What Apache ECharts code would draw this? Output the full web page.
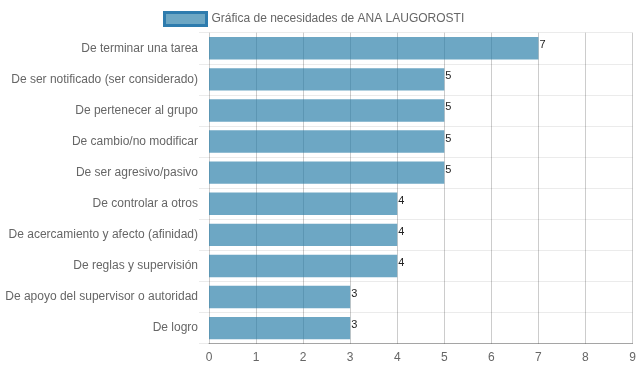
<!DOCTYPE html>
<html><head><meta charset="utf-8">
<script src="https://cdn.jsdelivr.net/npm/echarts@6/dist/echarts.min.js"></script>
<style>html,body{margin:0;padding:0;background:#fff}#c{width:639px;height:372px}</style>
</head><body><div id="c"></div>
<script>
const categories = ["De terminar una tarea","De ser notificado (ser considerado)","De pertenecer al grupo","De cambio/no modificar","De ser agresivo/pasivo","De controlar a otros","De acercamiento y afecto (afinidad)","De reglas y supervisión","De apoyo del supervisor o autoridad","De logro"];
const values = [7,5,5,5,5,4,4,4,3,3];
const seriesName = "Gráfica de necesidades de ANA LAUGOROSTI";
const xMin = 0, xMax = 9, xStep = 1;

const chart = echarts.init(document.getElementById('c'), null, {renderer:'canvas'});
const font = "'Liberation Sans', Arial, sans-serif";
chart.setOption({
  animation:false,
  legend:{
    top:6, left:158, itemWidth:42, itemHeight:13, itemGap:10,
    icon:'rect',
    textStyle:{fontFamily:font, fontSize:12, color:'#666'},
    data:[{name:seriesName, itemStyle:{color:'rgba(30,120,165,0.65)', borderColor:'#2e7cae', borderWidth:3}}]
  },
  grid:{left:209, right:6.5, top:32.7, bottom:28.3, containLabel:false},
  xAxis:{
    type:'value', min:xMin, max:xMax, interval:xStep,
    axisLine:{show:true, lineStyle:{color:'rgba(0,0,0,0.3)'}},
    axisTick:{show:false},
    splitLine:{show:true, lineStyle:{color:'rgba(0,0,0,0.2)', width:1}},
    axisLabel:{fontFamily:font, fontSize:12, color:'#666', margin:8}
  },
  yAxis:{
    type:'category', data:categories, inverse:true,
    axisLine:{show:false},
    axisTick:{show:true, length:10, lineStyle:{color:'rgba(0,0,0,0.08)'}},
    splitLine:{show:true, lineStyle:{color:'rgba(0,0,0,0.08)'}},
    axisLabel:{fontFamily:font, fontSize:12, color:'#666', margin:11}
  },
  series:[{
    name:seriesName, type:'bar', data:values, barWidth:'72%',
    itemStyle:{color:'rgba(30,120,165,0.65)'},
    label:{show:true, position:'right', distance:1, offset:[0,-3], fontFamily:font, fontSize:11, color:'#222'}
  }]
});
</script></body></html>
